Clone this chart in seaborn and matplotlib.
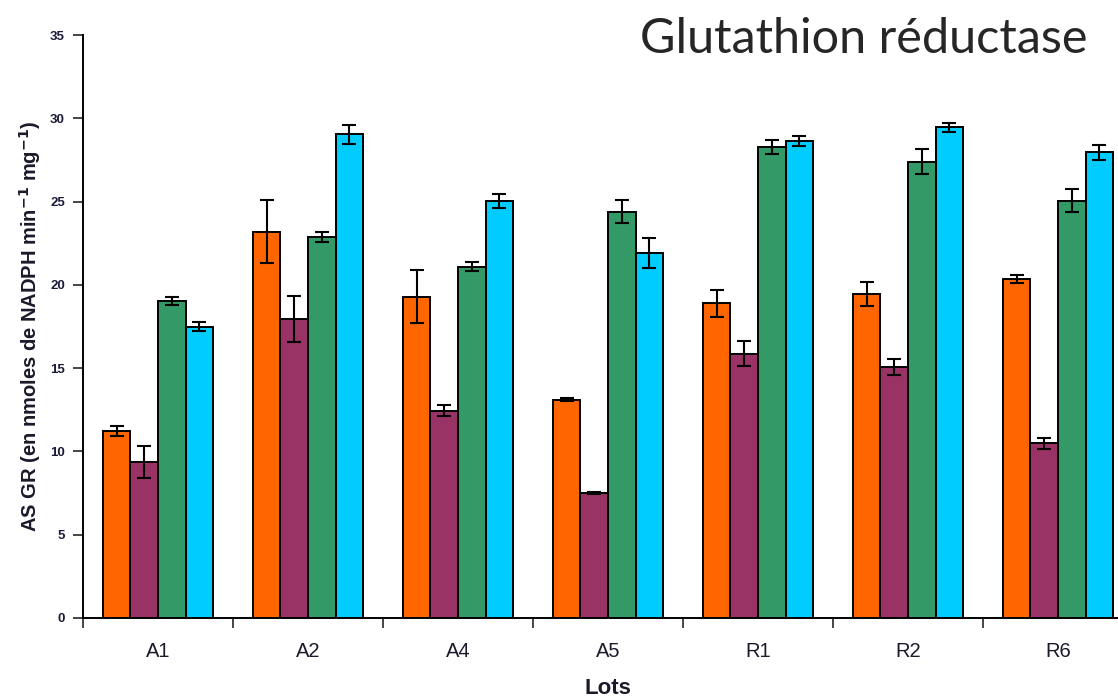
import numpy as np
import pandas as pd
import matplotlib
matplotlib.use("Agg")
import matplotlib.pyplot as plt
import seaborn as sns

lots = ["A1", "A2", "A4", "A5", "R1", "R2", "R6"]
groups = ["G1", "G2", "G3", "G4"]
orange_vals = [11.2, 23.2, 19.3, 13.1, 18.9, 19.45, 20.35]
purple_vals = [9.35, 17.95, 12.45, 7.5, 15.85, 15.05, 10.5]
green_vals = [19.05, 22.85, 21.1, 24.4, 28.25, 27.4, 25.05]
cyan_vals = [17.5, 29.05, 25.05, 21.9, 28.65, 29.45, 27.95]
orange_err = [0.3, 1.9, 1.6, 0.1, 0.8, 0.7, 0.24]
purple_err = [0.95, 1.4, 0.35, 0.05, 0.75, 0.48, 0.33]
green_err = [0.25, 0.3, 0.27, 0.7, 0.42, 0.75, 0.7]
cyan_err = [0.25, 0.57, 0.42, 0.9, 0.3, 0.27, 0.45]
colors = ["#FF6600", "#993366", "#339966", "#00CCFF"]

vals = [orange_vals, purple_vals, green_vals, cyan_vals]
errs = [orange_err, purple_err, green_err, cyan_err]

rows = []
for g, v in zip(groups, vals):
    for lot, x in zip(lots, v):
        rows.append({"Lots": lot, "group": g, "value": x})
df = pd.DataFrame(rows)

sns.set_style("white")
plt.rcParams["font.family"] = ["Liberation Sans", "DejaVu Sans"]

fig = plt.figure(figsize=(11.18, 6.98), dpi=100)
ax = fig.add_axes([83 / 1118, 1 - 618 / 698, 1050 / 1118, (618 - 35) / 698])

sns.barplot(data=df, x="Lots", y="value", hue="group", order=lots,
            hue_order=groups, palette=colors, saturation=1, width=0.735,
            edgecolor="black", linewidth=1.4, errorbar=None, legend=False, ax=ax)

for cont, e in zip(ax.containers, errs):
    xs = [p.get_x() + p.get_width() / 2 for p in cont.patches]
    hs = [p.get_height() for p in cont.patches]
    ax.errorbar(xs, hs, yerr=e, fmt="none", ecolor="black",
                elinewidth=1.5, capsize=5, capthick=1.5, zorder=5)

ax.set_xlim(-0.5, 6.5)
ax.set_ylim(0, 35)
ax.set_yticks(np.arange(0, 36, 5))
ax.tick_params(axis="y", labelsize=9.5, length=7, width=1.2, direction="out",
               left=True, labelcolor="#1a1a3a", pad=6)
for lab in ax.get_yticklabels():
    lab.set_fontweight("bold")

ax.set_xticks(np.arange(-0.5, 7, 1), minor=False)
ax.set_xticklabels([""] * 8)
ax.set_xticks(np.arange(7), minor=True)
ax.set_xticklabels(lots, minor=True, fontsize=14.5, color="#1a1a2a")
ax.tick_params(axis="x", which="major", length=7, width=1.2, bottom=True, direction="out")
ax.tick_params(axis="x", which="minor", length=0, pad=17)

for s in ["top", "right"]:
    ax.spines[s].set_visible(False)
for s in ["left", "bottom"]:
    ax.spines[s].set_color("black")
    ax.spines[s].set_linewidth(1.4)

ax.set_xlabel("Lots", fontsize=16, fontweight="bold", color="#1a1a2a")
ax.xaxis.set_label_coords(0.5, -0.103)
ax.set_ylabel("AS GR (en nmoles de NADPH min$^{\\mathbf{-1}}$ mg$^{\\mathbf{-1}}$)",
              fontsize=14.5, fontweight="bold", color="#1a1a2a")
ax.yaxis.set_label_coords(-0.038, 0.5)

fig.text(1087 / 1118, 1 - 53 / 698, "Glutathion réductase", ha="right",
         va="baseline", fontsize=35, family=["Lato", "DejaVu Sans"])

fig.savefig("out.png", dpi=100)
